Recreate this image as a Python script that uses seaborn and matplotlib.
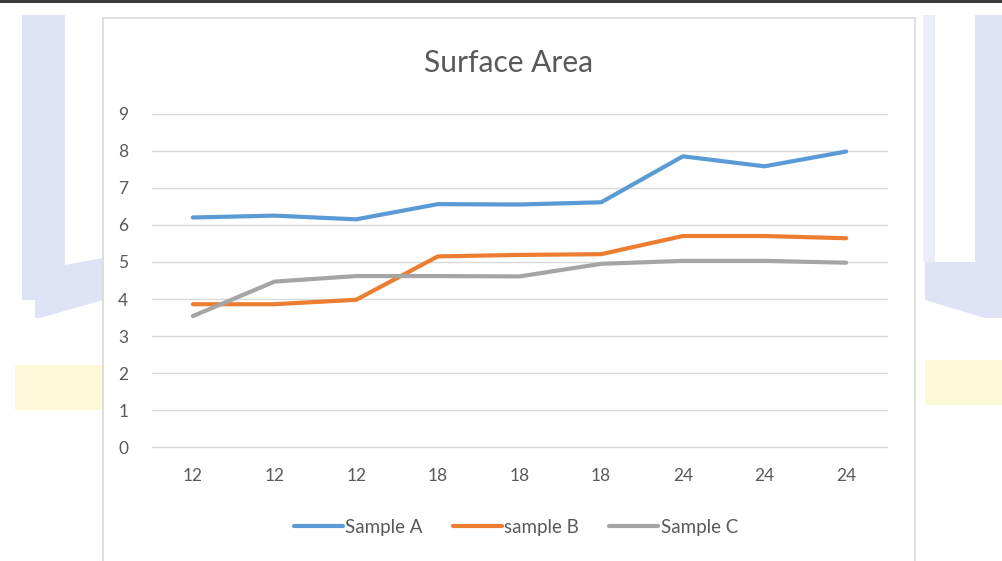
import matplotlib
matplotlib.use("Agg")
import matplotlib.pyplot as plt
from matplotlib.patches import Polygon, Rectangle
import numpy as np
import pandas as pd
import seaborn as sns

# Data
categories = ["12", "12", "12", "18", "18", "18", "24", "24", "24"]
sample_a = [6.20, 6.25, 6.15, 6.56, 6.55, 6.61, 7.85, 7.58, 7.98]
sample_b = [3.86, 3.86, 3.98, 5.15, 5.19, 5.21, 5.70, 5.70, 5.64]
sample_c = [3.54, 4.47, 4.62, 4.62, 4.61, 4.95, 5.03, 5.03, 4.98]
series_names = ["Sample A", "sample B", "Sample C"]
y_ticks = [0, 1, 2, 3, 4, 5, 6, 7, 8, 9]

colors = ["#5B9BD5", "#ED7D31", "#A5A5A5"]
text_color = "#595959"

sns.set_theme(style="white")
plt.rcParams["font.family"] = ["Lato", "DejaVu Sans"]

df = pd.DataFrame({
    "pos": list(range(len(categories))) * 3,
    "value": sample_a + sample_b + sample_c,
    "series": sum([[n] * len(categories) for n in series_names], []),
})

fig = plt.figure(figsize=(10.02, 5.61), dpi=100)
W, H = 1002, 561

def px(x, y):
    return (x / W, 1 - y / H)

# page background: rule at the top, faint banner shapes behind the chart box
fig.patches.append(Rectangle(px(0, 3), 1, 2.5 / H, transform=fig.transFigure,
                             facecolor="#3a3a3a", edgecolor="none", zorder=0))
blue = "#d3dbf2"
yellow = "#fdf7cf"
left_shape = [px(22, 15), px(65, 15), px(65, 265), px(103, 258), px(103, 300),
              px(40, 318), px(35, 318), px(35, 300), px(22, 300)]
right_shape = [px(975, 15), px(1002, 15), px(1002, 318), px(985, 318),
               px(925, 300), px(925, 262), px(975, 262)]
for shp in (left_shape, right_shape):
    fig.patches.append(Polygon(shp, closed=True, transform=fig.transFigure,
                               facecolor=blue, edgecolor="none", alpha=0.75, zorder=0))
fig.patches.append(Rectangle(px(923, 262), 12 / W, 247 / H, transform=fig.transFigure,
                             facecolor=blue, edgecolor="none", alpha=0.45, zorder=0))
fig.patches.append(Rectangle(px(15, 410), 88 / W, 45 / H, transform=fig.transFigure,
                             facecolor=yellow, edgecolor="none", alpha=0.8, zorder=0))
fig.patches.append(Rectangle(px(925, 405), 77 / W, 45 / H, transform=fig.transFigure,
                             facecolor=yellow, edgecolor="none", alpha=0.8, zorder=0))
# chart area box
fig.patches.append(Rectangle(px(103, 565), 812 / W, 547 / H, transform=fig.transFigure,
                             facecolor="white", edgecolor="#d9d9d9", linewidth=1.2, zorder=1))

ax = fig.add_axes([152 / W, 1 - 447.3 / H, (887 - 152) / W, (447.3 - 113.7) / H])
ax.set_facecolor("none")
ax.set_zorder(2)

sns.lineplot(data=df, x="pos", y="value", hue="series", palette=colors,
             linewidth=3.0, ax=ax, legend=False)

ax.set_xlim(-0.5, len(categories) - 0.5)
ax.set_ylim(0, 9)
ax.set_yticks(y_ticks)
ax.set_yticklabels([str(t) for t in y_ticks], color=text_color, fontsize=12.5)
ax.set_xticks(range(len(categories)))
ax.set_xticklabels(categories, color=text_color, fontsize=12.5)
ax.tick_params(axis="both", length=0)
ax.tick_params(axis="y", pad=17)
ax.tick_params(axis="x", pad=15)
ax.yaxis.grid(True, color="#d9d9d9", linewidth=1.0)
for gl in ax.get_ygridlines():
    gl.set_clip_on(False)
ax.xaxis.grid(False)
for s in ax.spines.values():
    s.set_visible(False)
ax.set_xlabel("")
ax.set_ylabel("")

fig.text(509 / W, 1 - 63 / H, "Surface Area", ha="center", va="center",
         fontsize=21.5, color=text_color)

handles = [plt.Line2D([], [], color=c, linewidth=3.0) for c in colors]
fig.legend(handles, series_names, loc="center", bbox_to_anchor=(516 / W, 1 - 527 / H),
           ncol=3, frameon=False, fontsize=13.5, labelcolor=text_color,
           handlelength=2.6, handletextpad=0.15, columnspacing=1.6)

fig.savefig("out.png", dpi=100)
